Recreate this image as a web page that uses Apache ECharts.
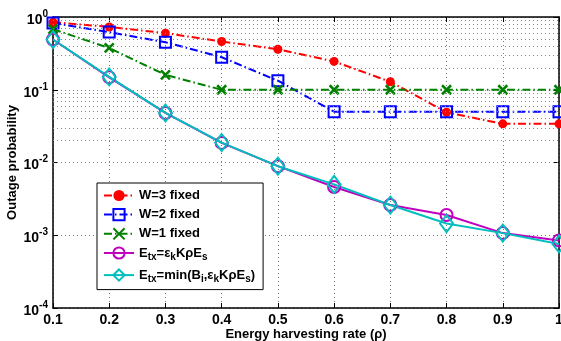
<!DOCTYPE html>
<html>
<head>
<meta charset="utf-8">
<script src="https://cdn.jsdelivr.net/npm/echarts@6/dist/echarts.min.js"></script>
<style>
  html, body { margin: 0; padding: 0; background: #fff; }
  #chart { width: 561px; height: 341px; }
</style>
</head>
<body>
<div id="chart"></div>
<script>
// energy harvesting rate (rho)
const rho = [0.1, 0.2, 0.3, 0.4, 0.5, 0.6, 0.7, 0.8, 0.9, 1.0];
// outage probability
const w3Fixed = [0.85, 0.73, 0.60, 0.46, 0.36, 0.245, 0.129, 0.049, 0.034, 0.034];
const w2Fixed = [0.83, 0.62, 0.45, 0.28, 0.133, 0.05, 0.05, 0.05, 0.05, 0.05];
const w1Fixed = [0.68, 0.375, 0.16, 0.1, 0.1, 0.1, 0.1, 0.1, 0.1, 0.1];
const etxLin = [0.49, 0.148, 0.048, 0.0186, 0.0089, 0.0046, 0.0026, 0.0019, 0.00107, 0.00085];
const etxMin = [0.49, 0.150, 0.048, 0.0188, 0.0089, 0.0050, 0.0026, 0.00145, 0.00107, 0.00076];

const pairs = ys => rho.map((x, i) => [x, ys[i]]);

// minor log grid lines at 2..9 x 10^k
const minorGrid = [];
for (let k = -4; k < 0; k++) {
  for (let m = 2; m <= 9; m++) minorGrid.push({ yAxis: m * Math.pow(10, k) });
}

const dashDot = [8, 3, 1.5, 3];
const font = 'Liberation Sans, Arial, sans-serif';

const chart = echarts.init(document.getElementById('chart'), null, { renderer: 'canvas' });

const sub = { fontSize: 10, fontWeight: 'bold', fontFamily: font, color: '#000', padding: [9, 0, 0, 0] };
const base = { fontSize: 13, fontWeight: 'bold', fontFamily: font, color: '#000' };

chart.setOption({
  animation: false,
  backgroundColor: '#fff',
  grid: { left: 53, right: 2, top: 17, bottom: 33, outerBoundsMode: 'none', containLabel: false },
  legend: {
    data: ['W=3 fixed', 'W=2 fixed', 'W=1 fixed', 'etx1', 'etx2'],
    orient: 'vertical',
    left: 97, top: 183,
    padding: [6, 8, 5, 6],
    itemGap: 6,
    itemWidth: 30, itemHeight: 14,
    backgroundColor: '#fff',
    borderColor: '#000', borderWidth: 1, borderRadius: 0,
    textStyle: { fontSize: 13, fontWeight: 'bold', fontFamily: font, color: '#000',
      rich: { b: base, s: sub } },
    formatter: name => {
      if (name === 'etx1') return '{b|E}{s|tx}{b|=ε}{s|k}{b|KρE}{s|s}';
      if (name === 'etx2') return '{b|E}{s|tx}{b|=min(B}{s|i}{b|,ε}{s|k}{b|KρE}{s|s}{b|)}';
      return name;
    }
  },
  xAxis: [{
    type: 'value', min: 0.1, max: 1, interval: 0.1,
    name: 'Energy harvesting rate (ρ)', nameLocation: 'middle', nameGap: 20, nameMoveOverlap: false,
    nameTextStyle: { fontSize: 13, fontWeight: 'bold', fontFamily: font, color: '#000' },
    axisLine: { show: true, onZero: false, lineStyle: { color: '#000', width: 1.5 } },
    axisTick: { inside: true, length: 5, lineStyle: { color: '#000' } },
    axisLabel: { fontSize: 14, fontWeight: 'bold', fontFamily: font, color: '#000', margin: 5,
      formatter: v => (Math.abs(v - 1) < 1e-9 ? '1' : v.toFixed(1)) },
    splitLine: { show: true, lineStyle: { color: '#777', type: [1, 3], width: 1 } }
  }, {
    type: 'value', min: 0.1, max: 1, interval: 0.1, position: 'top',
    axisLine: { show: true, lineStyle: { color: '#000', width: 1.5 } },
    axisTick: { inside: true, length: 5, lineStyle: { color: '#000' } },
    axisLabel: { show: false }, splitLine: { show: false }
  }],
  yAxis: [{
    type: 'log', logBase: 10, min: 1e-4, max: 1, interval: 1,
    name: 'Outage probability', nameLocation: 'middle', nameGap: 34, nameMoveOverlap: false,
    nameTextStyle: { fontSize: 13, fontWeight: 'bold', fontFamily: font, color: '#000' },
    axisLine: { show: true, lineStyle: { color: '#000', width: 1.5 } },
    axisTick: { inside: true, length: 5, lineStyle: { color: '#000' } },
    axisLabel: {
      margin: 5,
      formatter: v => {
        const e = Math.round(Math.log10(v));
        return '{b|10}{e|' + e + '}';
      },
      rich: {
        b: { fontSize: 14, fontWeight: 'bold', fontFamily: font, color: '#000', padding: [6, 0, 0, 0] },
        e: { fontSize: 10, fontWeight: 'bold', fontFamily: font, color: '#000', padding: [0, 0, 6, 0] }
      }
    },
    splitLine: { show: true, lineStyle: { color: '#777', type: [1, 3], width: 1 } }
  }, {
    type: 'log', logBase: 10, min: 1e-4, max: 1, interval: 1, position: 'right',
    axisLine: { show: true, lineStyle: { color: '#000', width: 1.5 } },
    axisTick: { inside: true, length: 5, lineStyle: { color: '#000' } },
    axisLabel: { show: false }, splitLine: { show: false }
  }],
  series: [
    {
      name: 'grid', type: 'line', data: [], z: 0, silent: true,
      markLine: {
        silent: true, symbol: 'none', label: { show: false },
        lineStyle: { color: '#888', type: [1, 3], width: 1 },
        data: minorGrid
      }
    },
    {
      name: 'W=3 fixed', type: 'line', data: pairs(w3Fixed),
      symbol: 'circle', symbolSize: 9,
      itemStyle: { color: '#ff0000' },
      lineStyle: { color: '#ff0000', width: 2, type: dashDot }
    },
    {
      name: 'W=2 fixed', type: 'line', data: pairs(w2Fixed),
      symbol: 'rect', symbolSize: 11,
      itemStyle: { color: 'rgba(0,0,0,0)', borderColor: '#0000ff', borderWidth: 2 },
      lineStyle: { color: '#0000ff', width: 2, type: dashDot }
    },
    {
      name: 'W=1 fixed', type: 'line', data: pairs(w1Fixed),
      symbol: 'path://M0,0L10,10M10,0L0,10', symbolSize: 9,
      itemStyle: { color: '#008000', borderColor: '#008000', borderWidth: 2.5 },
      lineStyle: { color: '#008000', width: 2, type: dashDot }
    },
    {
      name: 'etx1', type: 'line', data: pairs(etxLin),
      symbol: 'circle', symbolSize: 12,
      itemStyle: { color: 'rgba(0,0,0,0)', borderColor: '#bf00bf', borderWidth: 2 },
      lineStyle: { color: '#bf00bf', width: 2 }
    },
    {
      name: 'etx2', type: 'line', data: pairs(etxMin),
      symbol: 'diamond', symbolSize: [13, 17],
      itemStyle: { color: 'rgba(0,0,0,0)', borderColor: '#00bfbf', borderWidth: 2 },
      lineStyle: { color: '#00bfbf', width: 2 }
    }
  ]
});
</script>
</body>
</html>
